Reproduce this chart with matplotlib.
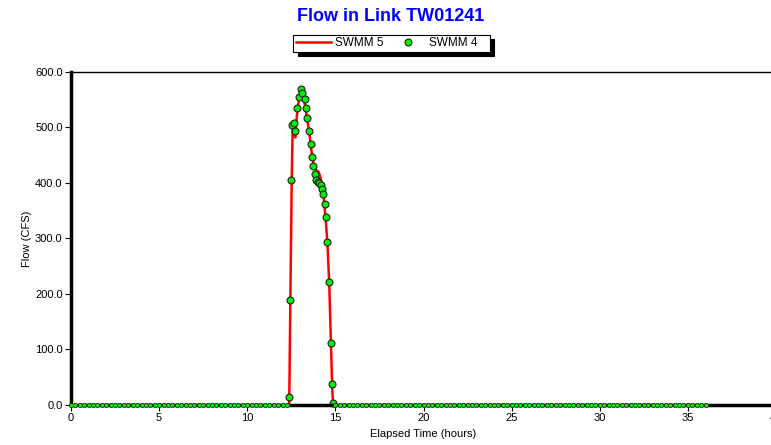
import numpy as np
import matplotlib as mpl
import matplotlib.pyplot as plt
from matplotlib.ticker import FormatStrFormatter

mpl.rcParams.update({
    "font.family": ["Liberation Sans", "DejaVu Sans"],
    "font.size": 8,
    "xtick.direction": "out",
    "ytick.direction": "out",
})

# SWMM 5 (red line), hours / cfs
swmm5_t = [0.0, 12.38, 12.45, 12.52, 12.58, 12.66, 12.72, 12.78, 12.88, 12.98,
           13.08, 13.18, 13.28, 13.40, 13.52, 13.62, 13.72, 13.82, 13.95, 14.05,
           14.15, 14.25, 14.35, 14.45, 14.55, 14.65, 14.75, 14.82, 14.87, 36.0]
swmm5_q = [0.0, 0.0, 200, 400, 505, 495, 482, 510, 540, 558,
           562, 555, 540, 515, 490, 463, 440, 428, 422, 420,
           410, 395, 370, 335, 290, 220, 110, 30, 0.0, 0.0]

# SWMM 4 (green markers) during the event
swmm4_t = [12.355, 12.429, 12.486, 12.560, 12.656, 12.730, 12.826, 12.940, 13.053, 13.127,
           13.263, 13.320, 13.411, 13.507, 13.592, 13.661, 13.717, 13.819, 13.922, 14.001,
           14.075, 14.171, 14.228, 14.302, 14.398, 14.472, 14.546, 14.659, 14.739, 14.813,
           14.852]
swmm4_q = [15, 190, 405, 505, 508, 494, 535, 555, 570, 563,
           551, 535, 517, 494, 471, 446, 430, 417, 405, 402,
           400, 397, 390, 380, 363, 338, 294, 222, 111, 37,
           4]
# dry-weather report points (zero flow)
dry_t = np.concatenate([np.arange(0.0, 12.3, 0.25), np.arange(15.0, 36.01, 0.25)])
dry_q = np.zeros(len(dry_t))

fig = plt.figure(figsize=(7.71, 4.45), dpi=100)
ax = fig.add_axes([0.0921, 0.0899, 0.9144, 0.7483])

ax.plot(swmm5_t, swmm5_q, color="#ff0000", lw=1.8, label="SWMM 5", zorder=2)
ax.plot(swmm4_t, swmm4_q, ls="none", marker="o", ms=5, mfc="#00ee00", mec="#202020", mew=0.8,
        label="SWMM 4   ", zorder=3, clip_on=False)
ax.plot(dry_t, dry_q, ls="none", marker="o", ms=3, mfc="#00ee00", mec="#202020", mew=0.5,
        zorder=5, clip_on=False)

ax.set_xlim(0, 40)
ax.set_ylim(0, 600)
ax.set_xticks(range(0, 41, 5))
ax.set_yticks(range(0, 601, 100))
ax.yaxis.set_major_formatter(FormatStrFormatter("%.1f"))
ax.tick_params(length=4, width=0.8, pad=2, labelsize=8)

ax.spines["left"].set_linewidth(2.5)
ax.spines["bottom"].set_linewidth(2.5)
ax.spines["bottom"].set_zorder(4)
ax.spines["top"].set_linewidth(1.0)
ax.spines["right"].set_visible(False)

ax.set_xlabel("Elapsed Time (hours)", fontsize=8, labelpad=4)
ax.set_ylabel("Flow (CFS)", fontsize=8, labelpad=2)

fig.text(0.507, 0.963, "Flow in Link TW01241", ha="center", va="center",
         fontsize=13, fontweight="bold", color="#0000ff")

leg = fig.legend(loc="center", bbox_to_anchor=(0.508, 0.903), ncol=2,
                 frameon=True, fancybox=False, edgecolor="black", framealpha=1,
                 shadow={"ox": 3, "oy": -3, "color": "black", "alpha": 1},
                 handlelength=3.0, columnspacing=0.6, handletextpad=0.3,
                 borderpad=0.2, fontsize=8.5)
leg.get_frame().set_linewidth(0.8)

fig.savefig("out.png", dpi=100)
